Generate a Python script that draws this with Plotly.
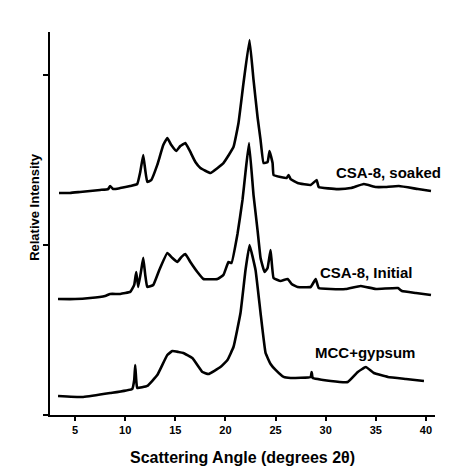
import plotly.graph_objects as go

# 2-theta (degrees) and relative intensity
soaked_x = [3.4, 4.5, 5.5, 6.5, 7.5, 8.3, 8.5, 8.8, 9.5, 10.5, 11.2, 11.5, 11.8, 12.0, 12.2, 12.6,
            13.2, 13.8, 14.2, 14.6, 15.1, 15.5, 16.0, 16.4, 17.0, 17.5, 18.5, 19.8, 20.8, 21.3,
            21.8, 22.4, 22.8, 23.2, 23.5, 23.8, 24.2, 24.4, 24.7, 24.8, 25.5, 26.1, 26.3, 26.5,
            27.2, 28.5, 29.1, 29.3, 31.2, 32.5, 33.8, 35.0, 35.8, 37.3, 39.2, 40.5]
soaked_y = [1.306, 1.306, 1.312, 1.318, 1.324, 1.329, 1.347, 1.329, 1.335, 1.347, 1.359, 1.429,
            1.529, 1.441, 1.371, 1.382, 1.471, 1.588, 1.629, 1.588, 1.553, 1.582, 1.600, 1.559,
            1.488, 1.453, 1.424, 1.482, 1.576, 1.718, 1.953, 2.206, 1.971, 1.753, 1.618, 1.482,
            1.488, 1.553, 1.482, 1.412, 1.400, 1.394, 1.412, 1.388, 1.365, 1.353, 1.382, 1.341,
            1.329, 1.335, 1.359, 1.341, 1.341, 1.347, 1.329, 1.318]

initial_x = [3.3, 5.0, 6.5, 8.0, 8.5, 9.5, 10.5, 10.9, 11.1, 11.3, 11.6, 11.8, 12.0, 12.2, 12.8,
             13.4, 14.2, 14.7, 15.2, 15.6, 16.0, 16.5, 17.2, 17.8, 19.2, 19.8, 20.3, 20.6, 21.2,
             21.7, 22.0, 22.35, 22.8, 23.2, 23.5, 23.9, 24.2, 24.5, 24.8, 25.5, 26.2, 26.6, 27.2,
             28.5, 29.0, 29.3, 30.5, 32.0, 33.5, 35.0, 37.2, 37.6, 39.0, 40.5]
initial_y = [0.682, 0.682, 0.688, 0.700, 0.712, 0.712, 0.724, 0.765, 0.841, 0.753, 0.853, 0.924,
             0.824, 0.753, 0.765, 0.853, 0.953, 0.924, 0.900, 0.929, 0.947, 0.900, 0.841, 0.800,
             0.800, 0.824, 0.900, 0.894, 1.065, 1.265, 1.429, 1.600, 1.294, 1.088, 0.924, 0.841,
             0.865, 0.971, 0.806, 0.788, 0.800, 0.771, 0.753, 0.753, 0.800, 0.747, 0.741, 0.741,
             0.759, 0.741, 0.747, 0.729, 0.718, 0.706]

mcc_x = [3.3, 5.8, 8.5, 10.7, 10.9, 11.0, 11.1, 11.2, 12.2, 13.2, 14.2, 14.7, 15.3, 15.8, 16.7,
         17.7, 18.3, 19.5, 20.2, 20.8, 21.5, 22.0, 22.4, 23.0, 23.5, 24.0, 24.5, 25.0, 25.8,
         26.5, 28.5, 28.6, 28.7, 30.5, 32.2, 33.2, 34.0, 34.8, 36.2, 38.0, 39.8]
mcc_y = [0.112, 0.106, 0.129, 0.153, 0.206, 0.294, 0.206, 0.159, 0.171, 0.235, 0.353, 0.376,
         0.371, 0.365, 0.335, 0.253, 0.241, 0.282, 0.324, 0.400, 0.600, 0.853, 1.000, 0.853,
         0.600, 0.365, 0.300, 0.265, 0.224, 0.218, 0.224, 0.253, 0.218, 0.200, 0.194, 0.253,
         0.282, 0.247, 0.224, 0.212, 0.200]

series_labels = ["CSA-8, soaked", "CSA-8, Initial", "MCC+gypsum"]
x_ticks = [5, 10, 15, 20, 25, 30, 35, 40]
y_ticks = [0, 1, 2]

FONT = "Liberation Sans, Arial, sans-serif"

fig = go.Figure()
for xs, ys, name in [(soaked_x, soaked_y, series_labels[0]),
                     (initial_x, initial_y, series_labels[1]),
                     (mcc_x, mcc_y, series_labels[2])]:
    fig.add_trace(go.Scatter(x=xs, y=ys, mode="lines", name=name,
                             line=dict(color="black", width=2.6, shape="spline", smoothing=0.3),
                             showlegend=False))

# label anchors in paper coordinates (right edge, vertical centre)
label_pos = [(1.021, 0.632), (0.948, 0.373), (0.953, 0.164)]
for (lx, ly), txt in zip(label_pos, series_labels):
    fig.add_annotation(x=lx, y=ly, xref="paper", yref="paper", text="<b>%s</b>" % txt,
                       showarrow=False, xanchor="right", yanchor="middle",
                       font=dict(family=FONT, size=15, color="black"))

fig.add_annotation(x=-0.042, y=0.543, xref="paper", yref="paper",
                   text="<b>Relative Intensity</b>", textangle=-90, showarrow=False,
                   xanchor="center", yanchor="middle",
                   font=dict(family=FONT, size=13, color="black"))
fig.add_annotation(x=0.499, y=-0.112, xref="paper", yref="paper",
                   text="<b>Scattering Angle (degrees 2θ)</b>", showarrow=False,
                   xanchor="center", yanchor="middle",
                   font=dict(family=FONT, size=16, color="black"))

fig.update_xaxes(range=[2.5, 40.9], tickvals=x_ticks, ticktext=["<b>%d</b>" % t for t in x_ticks],
                 ticks="outside", ticklen=4, tickwidth=2, tickcolor="black",
                 showline=True, linecolor="black", linewidth=2, showgrid=False, zeroline=False,
                 tickfont=dict(family=FONT, size=11, color="black"))
fig.update_yaxes(range=[0, 2.253], tickvals=y_ticks, showticklabels=False,
                 ticks="outside", ticklen=5, tickwidth=2, tickcolor="black",
                 showline=True, linecolor="black", linewidth=2, showgrid=False, zeroline=False)

fig.update_layout(width=471, height=476, margin=dict(l=50, r=36, t=32, b=61),
                  paper_bgcolor="white", plot_bgcolor="white")

fig.write_html("out.html")
